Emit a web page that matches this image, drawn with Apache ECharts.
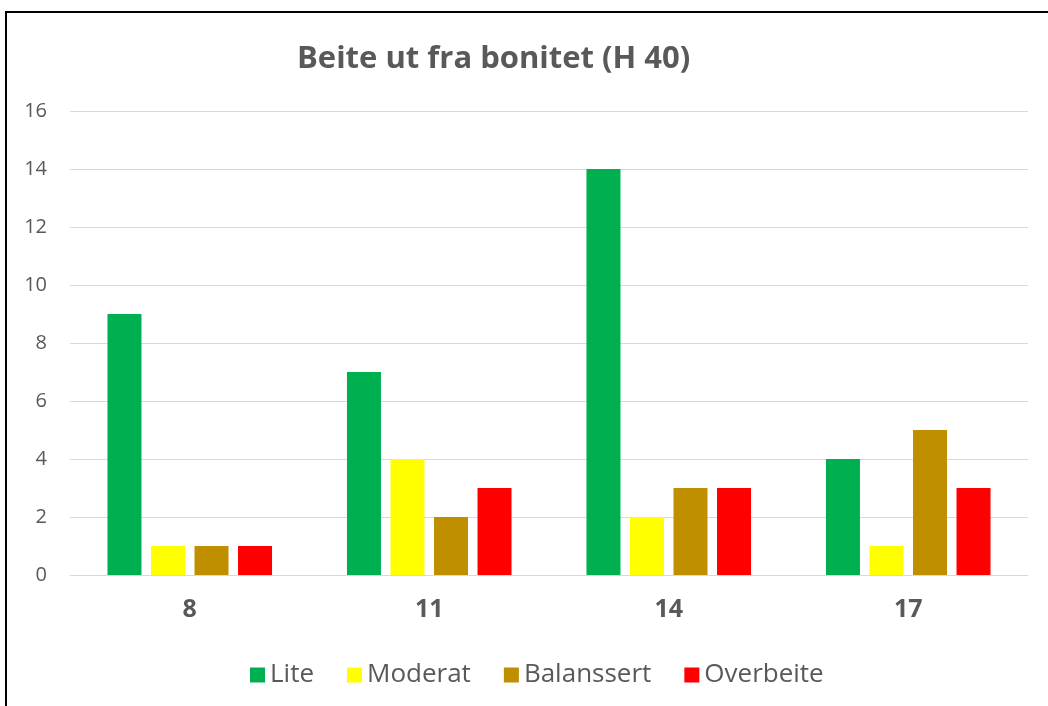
<!DOCTYPE html>
<html>
<head>
<meta charset="utf-8">
<script src="https://cdn.jsdelivr.net/npm/echarts@6/dist/echarts.min.js"></script>
<style>
html, body { margin: 0; padding: 0; background: #fff; overflow: hidden; }
#frame { position: absolute; left: 5px; top: 11px; width: 1100px; height: 760px; border: 2px solid #000; box-sizing: border-box; }
#chart { position: absolute; left: 0; top: 0; width: 1048px; height: 706px; }
</style>
</head>
<body>
<div id="frame"></div>
<div id="chart"></div>
<script>
var categories = ['8', '11', '14', '17'];
var seriesNames = ['Lite', 'Moderat', 'Balanssert', 'Overbeite'];
var liteValues = [9, 7, 14, 4];
var moderatValues = [1, 4, 2, 1];
var balanssertValues = [1, 2, 3, 5];
var overbeiteValues = [1, 3, 3, 3];
var colors = ['#00B050', '#FFFF00', '#BF8F00', '#FF0000'];

var chart = echarts.init(document.getElementById('chart'));
var allValues = [liteValues, moderatValues, balanssertValues, overbeiteValues];
var series = seriesNames.map(function (name, i) {
    return {
        name: name,
        type: 'bar',
        data: allValues[i],
        barWidth: 34,
        barGap: '28%',
        itemStyle: { color: colors[i] }
    };
});

var option = {
    animation: false,
    backgroundColor: 'transparent',
    title: {
        text: 'Beite ut fra bonitet (H 40)',
        left: 292,
        top: 39,
        textStyle: { fontFamily: 'Open Sans', fontWeight: 'bold', fontSize: 31, color: '#595959' }
    },
    legend: {
        data: seriesNames,
        top: 657,
        left: 245,
        itemWidth: 15,
        itemHeight: 15,
        itemGap: 33,
        icon: 'rect',
        textStyle: { fontFamily: 'Open Sans', fontSize: 26, color: '#595959' }
    },
    grid: { left: 70, right: 20, top: 111, bottom: 131 },
    xAxis: {
        type: 'category',
        data: categories,
        axisLine: { lineStyle: { color: '#D9D9D9', width: 1 } },
        axisTick: { show: false },
        axisLabel: { fontFamily: 'Open Sans', fontWeight: 'bold', fontSize: 25, color: '#595959', margin: 22 }
    },
    yAxis: {
        type: 'value',
        min: 0,
        max: 16,
        interval: 2,
        axisLine: { show: false },
        axisTick: { show: false },
        splitLine: { lineStyle: { color: '#D9D9D9', width: 1 } },
        axisLabel: { fontFamily: 'Open Sans', fontSize: 20, color: '#595959', margin: 23 }
    },
    series: series
};
chart.setOption(option);
</script>
</body>
</html>
